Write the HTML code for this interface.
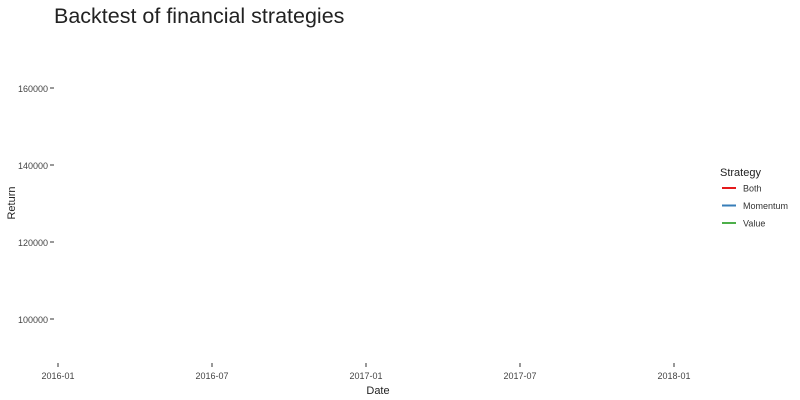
<!DOCTYPE html>
<html><head><meta charset="utf-8"><style>
html,body{margin:0;padding:0;background:#fff;}
svg{display:block;font-family:"Liberation Sans",sans-serif;}
</style></head><body>
<svg id="chart" width="800" height="400">
<text x="54" y="23" font-size="21.5" fill="#222">Backtest of financial strategies</text>
<text x="378" y="394" font-size="11" fill="#222" text-anchor="middle">Date</text>
<text transform="translate(15,203) rotate(-90)" font-size="11" fill="#222" text-anchor="middle">Return</text>
<text x="720" y="176" font-size="11" fill="#222">Strategy</text>
<g id="ax"></g><g id="lg"></g>
</svg>
<script>
const yTicks=[100000,120000,140000,160000];
const xTickLabels=["2016-01","2016-07","2017-01","2017-07","2018-01"];
const xTickMonths=[0,6,12,18,24];
const seriesNames=["Both","Momentum","Value"];
const seriesColors=["#e41a1c","#377eb8","#4daf4a"];
const ns="http://www.w3.org/2000/svg";
function yS(v){return 319-(v-100000)*(319-88)/60000;}
function xS(m){return 58+m*(674-58)/24;}
const ax=document.getElementById('ax');
function mk(t,a,p){const e=document.createElementNS(ns,t);for(const k in a)e.setAttribute(k,a[k]);(p||ax).appendChild(e);return e;}
yTicks.forEach(v=>{
 const y=yS(v);
 const l=mk('line',{x1:50,x2:54,y1:y,y2:y,stroke:'#333'});
 
 
 const t=mk('text',{x:48,y:y+4,'font-size':9,fill:'#444','text-anchor':'end'});
 t.textContent=v;
 
 
});
xTickLabels.forEach((s,i)=>{
 const x=xS(xTickMonths[i]);
 const l=mk('line',{x1:x,x2:x,y1:363,y2:367,stroke:'#333'});
 
 
 const t=mk('text',{x:x,y:379,'font-size':9,fill:'#444','text-anchor':'middle'});
 t.textContent=s;
 
 
});
const lg=document.getElementById('lg');
seriesNames.forEach((n,i)=>{
 const y=188+i*17.5;
 const l=mk('line',{x1:722,x2:736,y1:y,y2:y,stroke:seriesColors[i],'stroke-width':2},lg);
 
 
 const t=mk('text',{x:743,y:y+3.5,'font-size':9,fill:'#333'},lg);
 t.textContent=n;
 
 
});
</script>
</body></html>
